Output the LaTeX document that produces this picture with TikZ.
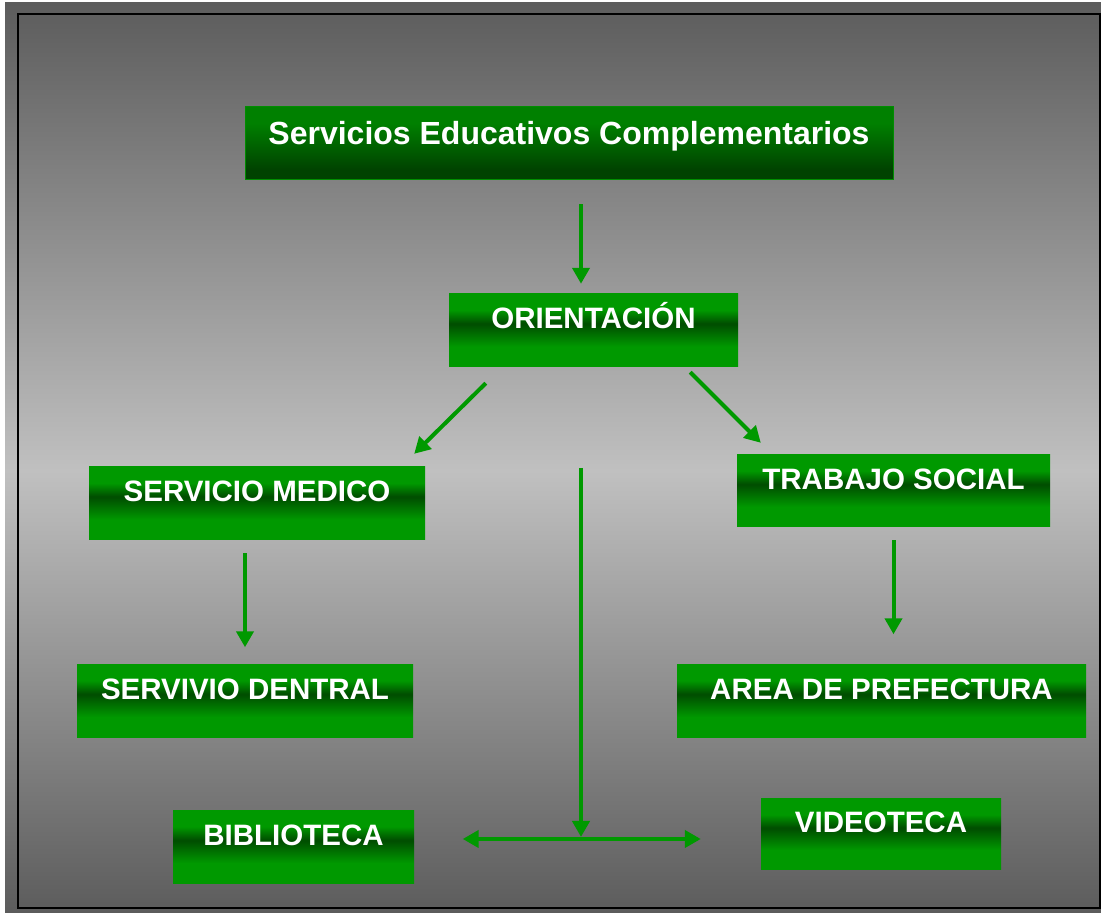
\documentclass[tikz,border=0pt]{standalone}
\usepackage{fontspec}
\setmainfont{Liberation Sans}
\usepackage{xcolor}
\definecolor{leaf}{HTML}{009900}
\definecolor{deepleaf}{HTML}{004F00}
\definecolor{moss}{HTML}{008000}
\definecolor{deepmoss}{HTML}{004200}
\definecolor{smoke}{HTML}{5C5C5C}
\definecolor{silver}{HTML}{C0C0C0}
\usetikzlibrary{arrows.meta}

\pgfdeclareverticalshading{slate}{100bp}{color(0bp)=(smoke); color(25bp)=(smoke); color(49.3bp)=(silver); color(75bp)=(smoke); color(100bp)=(smoke)}
\pgfdeclareverticalshading{leafband}{100bp}{color(0bp)=(leaf); color(25bp)=(leaf); color(39bp)=(leaf); color(54bp)=(deepleaf); color(55bp)=(deepleaf); color(64bp)=(leaf); color(75bp)=(leaf); color(100bp)=(leaf)}
\pgfdeclareverticalshading{mossfade}{100bp}{color(0bp)=(deepmoss); color(25bp)=(deepmoss); color(32bp)=(deepmoss); color(64bp)=(moss); color(75bp)=(moss); color(100bp)=(moss)}

\tikzset{
  bigtri/.tip={Triangle[length=16pt,width=17pt]},
  panel/.style={shading=leafband, inner sep=0pt, minimum height=73pt, text=white,
    font=\fontsize{29.5}{35}\selectfont\bfseries, text height=21pt, text depth=24pt},
  headpanel/.style={panel, shading=mossfade, draw=leaf!92!black, line width=1pt,
    font=\fontsize{32}{38}\selectfont\bfseries, text height=23pt, text depth=20pt},
  link/.style={draw=leaf, line width=4pt, -bigtri},
}

\begin{document}
\begin{tikzpicture}[x=1pt, y=1pt]
  % Background
  \useasboundingbox (0,0) rectangle (1101,913);
  \shade[shading=slate] (5,0) rectangle (1101,910);
  \draw[line width=2pt] (18.2,4.7) rectangle (1099.7,899.2);

  \node[headpanel, minimum width=648pt] (servicios) at (569,769.5) {Servicios Educativos Complementarios};
  \node[panel, minimum width=289pt] (orientacion) at (593.5,582.5) {ORIENTACIÓN};
  \node[panel, minimum width=336pt] (medico) at (257,409.5) {SERVICIO MEDICO};
  \node[panel, minimum width=313pt, minimum height=72pt] (trabajo) at (893.5,422) {TRABAJO SOCIAL};
  \node[panel, minimum width=336pt] (dental) at (245,212) {SERVIVIO DENTRAL};
  \node[panel, minimum width=409pt] (prefectura) at (881.5,212) {AREA DE PREFECTURA};
  \node[panel, minimum width=241pt] (biblioteca) at (293.5,66) {BIBLIOTECA};
  \node[panel, minimum width=240pt, minimum height=71pt] (videoteca) at (881,78.5) {VIDEOTECA};

  \coordinate (drop) at (581,445);
  \coordinate (hub) at (581,74);

  \draw[link, shorten <=24pt, shorten >=10pt] ([xshift=12pt]servicios.south) -- ([xshift=-12.5pt]orientacion.north);
  \draw[link] ([shift={(37pt,-16pt)}]orientacion.south west) -- ([shift={(-11pt,13pt)}]medico.north east);
  \draw[link] ([shift={(-48pt,-5pt)}]orientacion.south east) -- ([shift={(24pt,12pt)}]trabajo.north west);
  \draw[link, shorten <=13pt, shorten >=17pt] ([xshift=-12pt]medico.south) -- (dental.north);
  \draw[link, shorten <=13pt, shorten >=30pt] (trabajo.south) -- ([xshift=12pt]prefectura.north);
  \draw[link, shorten >=2pt] (drop) -- (hub);
  \draw[link, bigtri-bigtri, shorten <=48.5pt, shorten >=60pt] (biblioteca.east |- hub) -- (videoteca.west |- hub);
\end{tikzpicture}
\end{document}
